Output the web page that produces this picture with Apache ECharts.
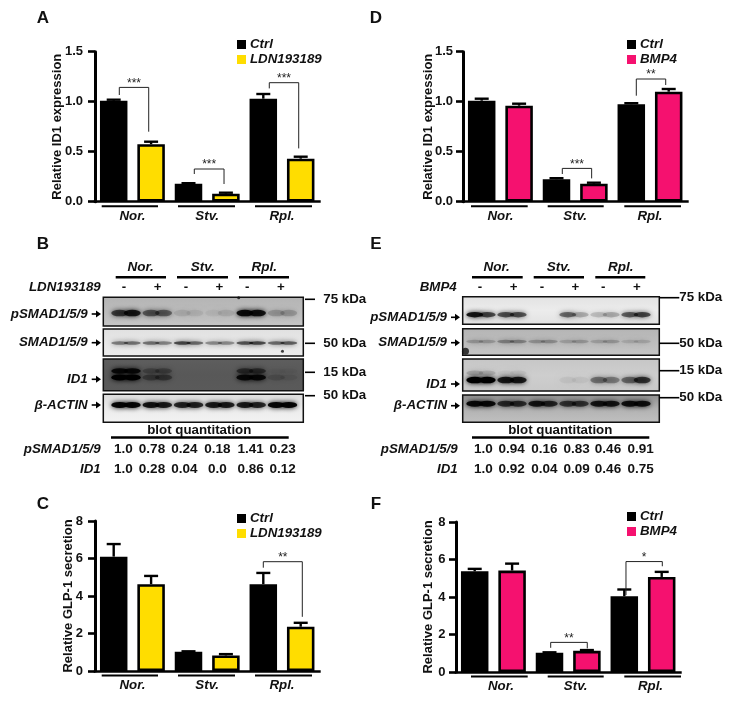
<!DOCTYPE html>
<html><head><meta charset="utf-8">
<style>html,body{margin:0;padding:0;background:#fff}#c{width:732px;height:703px}</style>
<script src="https://cdn.jsdelivr.net/npm/echarts@6/dist/echarts.min.js"></script>
</head><body><div id="c"></div>
<script>
const groups = ['Nor.', 'Stv.', 'Rpl.'];

// Panel A
const aCtrl = [1.01, 0.18, 1.03], aCtrlTop = [1.02, 0.185, 1.077];
const aDrug = [0.575, 0.08, 0.43], aDrugTop = [0.6, 0.09, 0.45];
// Panel D
const dCtrl = [1.01, 0.225, 0.975], dCtrlTop = [1.03, 0.235, 0.985];
const dDrug = [0.96, 0.18, 1.1], dDrugTop = [0.98, 0.19, 1.127];
// Panel C
const cCtrl = [6.1, 1.03, 4.63], cCtrlTop = [6.77, 1.05, 5.23];
const cDrug = [4.63, 0.83, 2.36], cDrugTop = [5.07, 0.9, 2.57];
// Panel F
const fCtrl = [5.37, 1.03, 4.04], fCtrlTop = [5.5, 1.05, 4.4];
const fDrug = [5.41, 1.13, 5.07], fDrugTop = [5.78, 1.17, 5.34];

// Significance brackets: lane left, lane right, left foot, right foot, top, stars
const aBrackets = [[0.65,1.436,1.067,0.70,1.143,'***'],[2.655,3.45,0.277,0.177,0.327,'***'],[4.66,5.447,1.133,0.533,1.19,'***']];
const dBrackets = [[2.655,3.44,0.277,0.233,0.333,'***'],[4.634,5.42,1.06,1.167,1.227,'**']];
const cBrackets = [[4.5,5.543,5.51,2.89,5.83,'**']];
const fBrackets = [[2.532,3.51,1.29,1.26,1.58,'**'],[4.545,5.516,4.1,5.64,5.89,'*']];

// Blot band darkness per lane [left half, right half]
const bP    = [[.6,.8],[.45,.42],[.08,.06],[.04,.08],[.9,.85],[.16,.16]];
const bS    = [[.38,.42],[.42,.35],[.6,.45],[.32,.32],[.55,.6],[.45,.5]];
const bIdUp = [[.85,.85],[.22,.26],[0,0],[0,0],[.45,.45],[.03,.03]];
const bIdLo = [[1,1],[.3,.35],[0,0],[0,0],[.85,.85],[.12,.06]];
const bA    = [[.95,.95],[.85,.8],[.75,.75],[.8,.8],[.8,.75],[.95,.95]];
const eP    = [[.85,.6],[.55,.55],[0,0],[.45,.2],[.14,.2],[.5,.6]];
const eS    = [[.18,.18],[.28,.28],[.2,.22],[.14,.18],[.14,.18],[.1,.12]];
const eIdUp = [[.15,.12],[.03,.05],[0,0],[0,0],[0,0],[0,0]];
const eIdLo = [[1,1],[.8,.8],[0,0],[.04,.04],[.35,.3],[.4,.65]];
const eA    = [[.9,.9],[.65,.65],[.8,.7],[.6,.6],[.8,.8],[.85,.85]];

// Quantitation tables
const laneMarks = ['-', '+', '-', '+', '-', '+'];
const bQuantP = ['1.0','0.78','0.24','0.18','1.41','0.23'];
const bQuantI = ['1.0','0.28','0.04','0.0','0.86','0.12'];
const eQuantP = ['1.0','0.94','0.16','0.83','0.46','0.91'];
const eQuantI = ['1.0','0.92','0.04','0.09','0.46','0.75'];

const FONT = '"Liberation Sans", Arial, sans-serif';
const YELLOW = '#ffdd00', PINK = '#f5116f';
const grid = [], xAxis = [], yAxis = [], series = [], legend = [], graphic = [];

function txt(text, x, y, o) {
  o = o || {};
  graphic.push({type:'text', silent:true, z:20, x:x, y:y, style:{text:text, fill:'#111',
    font:(o.italic?'italic ':'')+(o.weight||'bold')+' '+(o.size||13.3)+'px '+FONT,
    align:o.align||'center', verticalAlign:'middle'}});
}
function seg(x1, y1, x2, y2, w) {
  graphic.push({type:'line', silent:true, z:20, shape:{x1:x1,y1:y1,x2:x2,y2:y2}, style:{stroke:'#000', lineWidth:w||2}});
}
function arrow(x1, x2, y) {
  seg(x1, y, x2-3, y, 1.6);
  graphic.push({type:'polygon', silent:true, z:20, shape:{points:[[x2-5,y-3.5],[x2,y],[x2-5,y+3.5]]}, style:{fill:'#000'}});
}

function barPanel(p) {
  const gi = grid.length;
  grid.push({left:p.left, top:p.top, width:224.4, height:150, containLabel:false});
  const xi = xAxis.length, yi = yAxis.length;
  xAxis.push({type:'category', gridIndex:gi, data:groups,
    axisLine:{lineStyle:{color:'#000', width:2.6, cap:'square'}}, axisTick:{show:false},
    axisLabel:{margin:8, color:'#111', fontFamily:FONT, fontSize:13.3, fontWeight:'bold', fontStyle:'italic', padding:p.labelPad||0}});
  xAxis.push({type:'value', gridIndex:gi, min:0, max:6, show:false});
  yAxis.push({type:'value', gridIndex:gi, min:0, max:p.max, interval:p.interval, splitLine:{show:false},
    name:p.yName, nameLocation:'middle', nameGap:p.nameGap, nameMoveOverlap:false,
    nameTextStyle:{color:'#111', fontFamily:FONT, fontSize:13, fontWeight:'bold'},
    axisLine:{show:true, lineStyle:{color:'#000', width:3}},
    axisTick:{show:true, length:7, lineStyle:{color:'#000', width:2.6}},
    axisLabel:{margin:p.labelMargin, color:'#111', fontFamily:FONT, fontSize:13, fontWeight:'bold',
      formatter:v => p.interval < 1 ? v.toFixed(1) : String(v)}});
  const barBase = {type:'bar', xAxisIndex:xi, yAxisIndex:yi, barWidth:27.5, barGap:'36%', silent:true};
  series.push(Object.assign({}, barBase, {name:'Ctrl', data:p.ctrl, itemStyle:{color:'#000', borderColor:'#000', borderWidth:2.6}}));
  series.push(Object.assign({}, barBase, {name:p.drug, data:p.drugVals, itemStyle:{color:p.color, borderColor:'#000', borderWidth:2.6}}));

  // error bars
  const errs = [];
  groups.forEach((g, i) => {
    errs.push([2*i+0.5, p.ctrl[i], p.ctrlTop[i]]);
    errs.push([2*i+1.5, p.drugVals[i], p.drugTop[i]]);
  });
  series.push({type:'custom', xAxisIndex:xi+1, yAxisIndex:yi, silent:true, z:5, data:errs, clip:false,
    renderItem:(params, api) => {
      const a = api.coord([api.value(0), api.value(1)]), b = api.coord([api.value(0), api.value(2)]);
      const st = {stroke:'#000', lineWidth:2.4};
      return {type:'group', children:[
        {type:'line', shape:{x1:a[0],y1:a[1],x2:b[0],y2:b[1]}, style:st},
        {type:'line', shape:{x1:b[0]-7,y1:b[1],x2:b[0]+7,y2:b[1]}, style:st}]};
    }});
  // brackets
  series.push({type:'custom', xAxisIndex:xi+1, yAxisIndex:yi, silent:true, z:6, data:p.brackets, clip:false,
    encode:{x:[0,1], y:[2,3,4]},
    renderItem:(params, api) => {
      const l = api.coord([api.value(0), api.value(2)]), r = api.coord([api.value(1), api.value(3)]);
      const t = api.coord([api.value(0), api.value(4)])[1];
      const label = p.brackets[params.dataIndex][5];
      return {type:'group', children:[
        {type:'polyline', shape:{points:[[l[0],l[1]],[l[0],t],[r[0],t],[r[0],r[1]]]}, style:{stroke:'#222', lineWidth:1, fill:null}},
        {type:'text', x:(l[0]+r[0])/2, y:t-4, style:{text:label, fill:'#222', font:'12px '+FONT, align:'center', verticalAlign:'middle'}}]};
    }});

  legend.push({left:p.legendLeft, top:p.legendTop, padding:0, orient:'vertical', icon:'rect', itemWidth:9, itemHeight:9, itemGap:2,
    selectedMode:false, textStyle:{color:'#111', fontFamily:FONT, fontSize:13.3, fontWeight:'bold', fontStyle:'italic', padding:[0,0,0,-1]},
    data:[{name:'Ctrl', itemStyle:{borderWidth:0}}, {name:p.drug, itemStyle:{borderWidth:0}}]});
  p.lines.forEach(l => seg(l[0], p.top+154.5, l[1], p.top+154.5, 2));
}

barPanel({left:95, top:51.7, max:1.5, interval:0.5, yName:'Relative ID1 expression', nameGap:31, labelMargin:12, drug:'LDN193189', color:YELLOW,
  ctrl:aCtrl, ctrlTop:aCtrlTop, drugVals:aDrug, drugTop:aDrugTop, brackets:aBrackets, legendLeft:237, legendTop:38,
  lines:[[101.7,158],[178,235],[255,312]]});
barPanel({left:463, top:51.7, max:1.5, interval:0.5, yName:'Relative ID1 expression', nameGap:28, labelMargin:10, drug:'BMP4', color:PINK,
  ctrl:dCtrl, ctrlTop:dCtrlTop, drugVals:dDrug, drugTop:dDrugTop, brackets:dBrackets, legendLeft:627, legendTop:38,
  lines:[[471,527.7],[547.7,603.7],[624.3,681]]});
barPanel({left:95, top:521, max:8, interval:2, yName:'Relative GLP-1 secretion', nameGap:20, labelMargin:12, drug:'LDN193189', color:YELLOW,
  ctrl:cCtrl, ctrlTop:cCtrlTop, drugVals:cDrug, drugTop:cDrugTop, brackets:cBrackets, legendLeft:237, legendTop:512,
  lines:[[101.7,158],[178,235],[255,312]]});
barPanel({left:456, top:522, max:8, interval:2, yName:'Relative GLP-1 secretion', nameGap:21, labelMargin:10.5, drug:'BMP4', color:PINK, labelPad:[0,0,0,15],
  ctrl:fCtrl, ctrlTop:fCtrlTop, drugVals:fDrug, drugTop:fDrugTop, brackets:fBrackets, legendLeft:627, legendTop:510,
  lines:[[471,527.7],[547.7,603.7],[624.3,681]]});

const ELLIPSE = 'path://M0 5A5 5 0 1 1 10 5A5 5 0 1 1 0 5Z';
function vgrad(a, b, c) {
  return {type:'linear', x:0, y:0, x2:0, y2:1, colorStops:[{offset:0,color:a},{offset:.5,color:b},{offset:1,color:c}]};
}
function strip(s) {
  const gi = grid.length, xi = xAxis.length, yi = yAxis.length;
  grid.push({left:s.x, top:s.y, width:s.w, height:s.h, show:true, backgroundColor:s.bg, borderColor:'#111', borderWidth:1.5, z:1});
  xAxis.push({type:'value', gridIndex:gi, min:s.min, max:s.min + s.w/s.pitch, show:false});
  yAxis.push({type:'value', gridIndex:gi, min:0, max:1, inverse:true, show:false});
  s.rows.forEach(r => {
    const pts = [];
    r.vals.forEach((pair, i) => {
      pair.forEach((v, j) => {
        if (v > 0) pts.push({value:[i + 0.5 + (j ? 0.2 : -0.2), r.y], itemStyle:{opacity:v}});
      });
    });
    series.push({type:'scatter', xAxisIndex:xi, yAxisIndex:yi, silent:true, clip:true, symbol:ELLIPSE, symbolSize:[17, r.h], data:pts, z:3,
      itemStyle:{color:'#000', shadowColor:'#000', shadowBlur:5}});
  });
  (s.specks||[]).forEach(sp => {
    series.push({type:'scatter', xAxisIndex:xi, yAxisIndex:yi, silent:true, clip:true, symbolSize:sp[2], data:[[sp[0], sp[1]]], z:3, itemStyle:{color:'#111'}});
  });
}

// B blots
const bOpt = {x:103.3, w:200, min:-0.225, pitch:31.3};
strip(Object.assign({}, bOpt, {y:297.3, h:28.7, bg:vgrad('#b4b4b4','#bcbcbc','#c6c6c6'), rows:[{vals:bP,y:.55,h:6.5}], specks:[[4.1,0.02,3]]}));
strip(Object.assign({}, bOpt, {y:329,   h:27,   bg:vgrad('#e0e0e0','#e8e8e8','#ececec'), rows:[{vals:bS,y:.52,h:3.5}], specks:[[5.5,0.82,3]]}));
strip(Object.assign({}, bOpt, {y:359,   h:31.7, bg:vgrad('#5e5e5e','#585858','#5a5a5a'), rows:[{vals:bIdUp,y:.38,h:5.5},{vals:bIdLo,y:.58,h:6}]}));
strip(Object.assign({}, bOpt, {y:394.3, h:28,   bg:vgrad('#dcdcdc','#ebebeb','#f3f3f3'), rows:[{vals:bA,y:.38,h:6}]}));
// E blots
const eOpt = {x:462.7, w:196.6, min:-0.09, pitch:31};
strip(Object.assign({}, eOpt, {y:296.7, h:27.6, bg:vgrad('#e2e2e2','#ececec','#e2e2e2'), rows:[{vals:eP,y:.65,h:5.5}]}));
strip(Object.assign({}, eOpt, {y:328.7, h:26.6, bg:vgrad('#b4b4b4','#bebebe','#c6c6c6'), rows:[{vals:eS,y:.48,h:3.5}], specks:[[0.0,0.85,7]]}));
strip(Object.assign({}, eOpt, {y:359,   h:32,   bg:vgrad('#c6c6c6','#cecece','#c8c8c8'), rows:[{vals:eIdUp,y:.44,h:5},{vals:eIdLo,y:.66,h:6.5}]}));
strip(Object.assign({}, eOpt, {y:395,   h:27.3, bg:vgrad('#8e8e8e','#b2b2b2','#c0c0c0'), rows:[{vals:eA,y:.32,h:6}]}));

// Panel letters
[['A',43,18],['D',376,18],['B',43,244],['E',376,244],['C',43,504],['F',376,504]].forEach(l => txt(l[0], l[1], l[2], {size:17}));

// Blot annotations
function blotText(o) {
  o.heads.forEach((h, i) => {
    txt(groups[i], h, 267.3, {italic:true, size:13.5});
    seg(o.lines[i][0], 277.3, o.lines[i][1], 277.3, 2.6);
  });
  txt(o.drug, o.drugRight, 287.3, {italic:true, align:'right'});
  laneMarks.forEach((m, i) => txt(m, o.marks[i], 287.3));
  o.rows.forEach(r => {
    txt(r[0], o.arrow[0]-4, r[1], {italic:true, align:'right'});
    arrow(o.arrow[0], o.arrow[1], r[1]);
  });
  o.kda.forEach(k => {
    seg(o.kdaTick[0], k[1], o.kdaTick[1], k[1], 1.6);
    txt(k[0], o.kdaText, k[1], {align:'left'});
  });
  txt('blot quantitation', o.qCenter, 430);
  seg(o.qLine[0], 437.5, o.qLine[1], 437.5, 2.6);
  txt('pSMAD1/5/9', o.labelRight, 449, {italic:true, align:'right'});
  txt('ID1', o.labelRight, 469, {italic:true, align:'right'});
  o.qX.forEach((x, i) => {
    txt(o.qP[i], x, 449, {size:13.5});
    txt(o.qI[i], x, 469, {size:13.5});
  });
}
blotText({heads:[140.7,202.7,264.3], lines:[[115.7,166],[177,228],[239,289]], drug:'LDN193189', drugRight:100.7,
  marks:[124,157.7,186,219.3,247.3,281], arrow:[91.7,101],
  rows:[['pSMAD1/5/9',314],['SMAD1/5/9',342.7],['ID1',379.3],['β-ACTIN',405]],
  kda:[['75 kDa',299.3],['50 kDa',343.3],['15 kDa',372.3],['50 kDa',395.7]], kdaTick:[305,315], kdaText:323.3,
  qCenter:199.3, qLine:[111,288.7], labelRight:100.7, qX:[123.3,152,184.3,217.3,250.7,282.7], qP:bQuantP, qI:bQuantI});
blotText({heads:[496.7,558.7,620.7], lines:[[472,522.7],[533.7,584],[595.3,645.3]], drug:'BMP4', drugRight:456.7,
  marks:[480,513.7,542,575.3,603.3,637], arrow:[451,460],
  rows:[['pSMAD1/5/9',317.3],['SMAD1/5/9',342.7],['ID1',384],['β-ACTIN',405.7]],
  kda:[['75 kDa',297.7],['50 kDa',343.3],['15 kDa',370.7],['50 kDa',397.7]], kdaTick:[659.3,679.3], kdaText:679.3,
  qCenter:560.3, qLine:[472,649.3], labelRight:457.7, qX:[483.3,511.7,544.3,576.7,608,640.7], qP:eQuantP, qI:eQuantI});

const chart = echarts.init(document.getElementById('c'), null, {renderer:'canvas'});
chart.setOption({animation:false, backgroundColor:'#fff', grid, xAxis, yAxis, series, legend, graphic:{elements:graphic}, tooltip:{show:false}});
</script></body></html>
